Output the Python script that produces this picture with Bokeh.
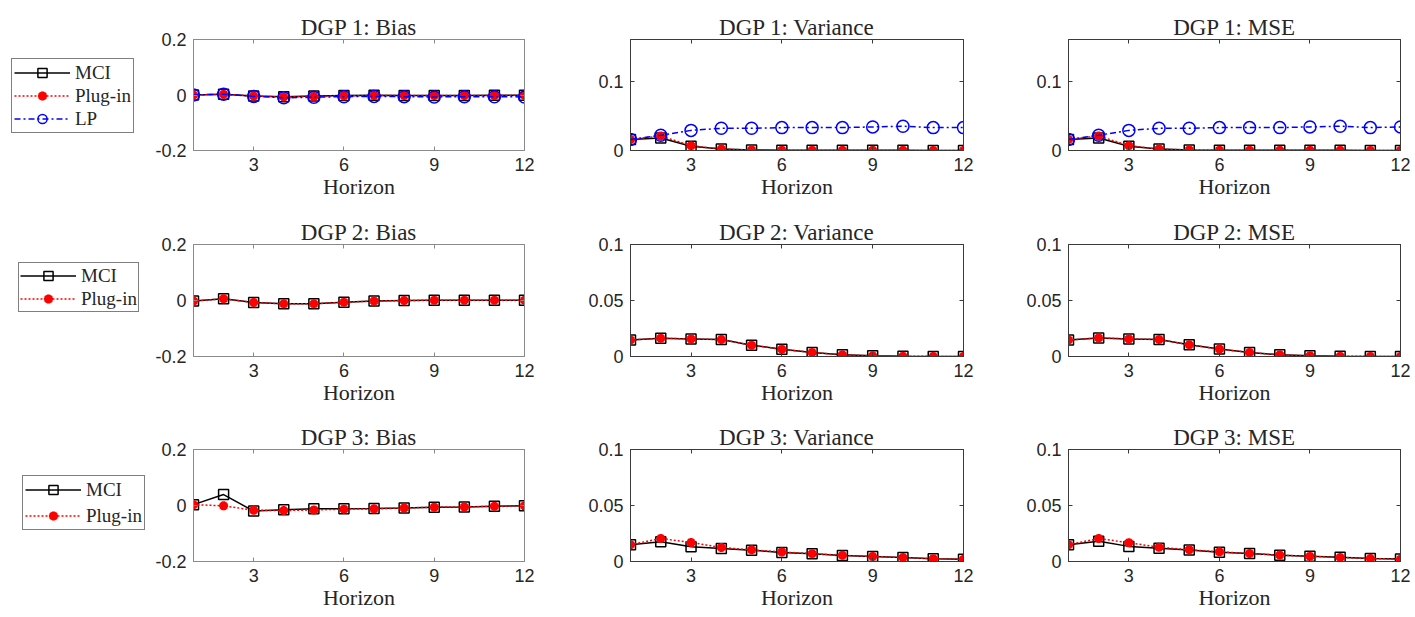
from bokeh.plotting import figure
from bokeh.layouts import column, row
from bokeh.models import FixedTicker, LinearAxis, Legend, LegendItem, Range1d
from bokeh.embed import file_html
from bokeh.resources import INLINE

# ---------------- data ----------------
horizon = list(range(1, 13))
x_ticks = [3, 6, 9, 12]

titles = [["DGP 1: Bias", "DGP 1: Variance", "DGP 1: MSE"],
          ["DGP 2: Bias", "DGP 2: Variance", "DGP 2: MSE"],
          ["DGP 3: Bias", "DGP 3: Variance", "DGP 3: MSE"]]
series_names = ["MCI", "Plug-in", "LP"]

# DGP 1
dgp1_bias_mci = [0.000, 0.003, -0.004, -0.006, -0.004, -0.002, -0.001, -0.002, -0.002, -0.002, -0.001, -0.001]
dgp1_bias_plugin = [0.000, 0.003, -0.004, -0.007, -0.005, -0.003, -0.002, -0.002, -0.002, -0.002, -0.002, -0.001]
dgp1_bias_lp = [0.000, 0.003, -0.005, -0.010, -0.008, -0.006, -0.005, -0.006, -0.007, -0.006, -0.006, -0.007]
dgp1_var_mci = [0.016, 0.018, 0.006, 0.002, 0.0008, 0.0004, 0.0003, 0.0002, 0.0002, 0.0002, 0.0001, 0.0001]
dgp1_var_plugin = [0.016, 0.021, 0.007, 0.002, 0.0008, 0.0004, 0.0003, 0.0002, 0.0002, 0.0002, 0.0001, 0.0001]
dgp1_var_lp = [0.016, 0.022, 0.029, 0.032, 0.032, 0.033, 0.033, 0.033, 0.034, 0.035, 0.033, 0.033]
dgp1_mse_mci = [0.016, 0.018, 0.006, 0.002, 0.0009, 0.0005, 0.0003, 0.0002, 0.0002, 0.0002, 0.0001, 0.0001]
dgp1_mse_plugin = [0.016, 0.021, 0.007, 0.002, 0.0009, 0.0005, 0.0003, 0.0002, 0.0002, 0.0002, 0.0001, 0.0001]
dgp1_mse_lp = [0.016, 0.022, 0.029, 0.032, 0.032, 0.033, 0.033, 0.033, 0.034, 0.035, 0.033, 0.034]

# DGP 2
dgp2_bias_mci = [-0.002, 0.006, -0.007, -0.012, -0.012, -0.006, -0.002, 0.000, 0.001, 0.001, 0.001, 0.001]
dgp2_bias_plugin = [-0.002, 0.006, -0.007, -0.012, -0.012, -0.006, -0.002, 0.000, 0.001, 0.001, 0.001, 0.001]
dgp2_var_mci = [0.0148, 0.0163, 0.0157, 0.0151, 0.0101, 0.0065, 0.0036, 0.0015, 0.0006, 0.0002, 0.0001, 0.0001]
dgp2_var_plugin = [0.0148, 0.0163, 0.0157, 0.0151, 0.0101, 0.0065, 0.0036, 0.0015, 0.0006, 0.0002, 0.0001, 0.0001]
dgp2_mse_mci = [0.0148, 0.0166, 0.0157, 0.0152, 0.0104, 0.0066, 0.0036, 0.0015, 0.0006, 0.0002, 0.0001, 0.0001]
dgp2_mse_plugin = [0.0148, 0.0166, 0.0157, 0.0152, 0.0104, 0.0066, 0.0036, 0.0015, 0.0006, 0.0002, 0.0001, 0.0001]

# DGP 3
dgp3_bias_mci = [0.003, 0.039, -0.020, -0.015, -0.012, -0.012, -0.011, -0.009, -0.006, -0.005, -0.003, -0.001]
dgp3_bias_plugin = [0.003, -0.001, -0.017, -0.018, -0.016, -0.013, -0.012, -0.009, -0.006, -0.005, -0.003, -0.001]
dgp3_var_mci = [0.0149, 0.0176, 0.0131, 0.0116, 0.0101, 0.0081, 0.0069, 0.0054, 0.0045, 0.0036, 0.0024, 0.0021]
dgp3_var_plugin = [0.0150, 0.0206, 0.0170, 0.0125, 0.0104, 0.0085, 0.0070, 0.0055, 0.0045, 0.0035, 0.0025, 0.0020]
dgp3_mse_mci = [0.0150, 0.0180, 0.0135, 0.0118, 0.0102, 0.0083, 0.0071, 0.0056, 0.0046, 0.0037, 0.0026, 0.0022]
dgp3_mse_plugin = [0.0150, 0.0205, 0.0168, 0.0127, 0.0105, 0.0087, 0.0072, 0.0057, 0.0046, 0.0036, 0.0026, 0.0021]

bias_ticks = [-0.2, 0, 0.2]
var1_ticks = [0, 0.1]
var_ticks = [0, 0.05, 0.1]

# ---------------- layout constants ----------------
LEG_W = 150
# (left border, frame width, right border) per column
COLS = [(193 - LEG_W, 331, 53), (53, 333, 52), (53, 332, 15)]
# (top border, frame height, bottom border) per row
ROWS = [(39, 111, 65), (29, 112, 64), (29, 112, 56)]
AXIS_COLORS = ["#8a8a8a", "#3a3a3a", "#3a3a3a"]
# legend: (left x, bottom offset above the frame bottom, item spacing, padding)
LEGEND_POS = [(11, 17, 0, 2), (18, 44, 0, 1), (22, 31, 3, 2)]

SERIF = "Liberation Serif"
SANS = "Liberation Sans"

STYLES = {
    "MCI": dict(line_color="black", line_dash="solid", marker="square", size=10,
                fill_color=None, mline="black", mlw=1.5),
    "Plug-in": dict(line_color="red", line_dash="2 2", marker="asterisk", size=9,
                    fill_color="red", mline="red", mlw=3),
    "LP": dict(line_color="blue", line_dash="6 3 2 3", marker="circle", size=12,
               fill_color=None, mline="blue", mlw=1.5),
}
NAN = [float("nan")]


def fmt(v):
    return "%g" % v


def draw_series(p, name, xs, ys):
    st = STYLES[name]
    lr = p.line(xs, ys, line_color=st["line_color"], line_dash=st["line_dash"], line_width=1.5)
    sr = p.scatter(xs, ys, marker=st["marker"], size=st["size"],
                   fill_color=st["fill_color"], line_color=st["mline"], line_width=st["mlw"])
    return lr, sr


def legend_fig(rowi, names):
    tb, fh, bb = ROWS[rowi]
    lx, vy, sp, pad = LEGEND_POS[rowi]
    p = figure(frame_width=LEG_W, frame_height=fh, title=None,
               min_border_left=0, min_border_right=0,
               min_border_top=tb, min_border_bottom=bb,
               x_range=Range1d(0, 1), y_range=Range1d(0, 1),
               x_axis_location=None, y_axis_location=None,
               output_backend="svg", toolbar_location=None)
    p.xgrid.visible = False
    p.ygrid.visible = False
    p.outline_line_color = None
    p.border_fill_color = "white"
    items = []
    for name in names:
        lr, sr = draw_series(p, name, NAN, NAN)
        items.append(LegendItem(label=name, renderers=[lr, sr]))
    leg = Legend(items=items, location=(lx, vy),
                 label_text_font=SERIF, label_text_font_size="19px",
                 label_text_color="#262626",
                 glyph_width=56, glyph_height=23, label_height=20,
                 label_standoff=5, spacing=sp, padding=pad, margin=0,
                 border_line_color="black", border_line_width=1,
                 background_fill_color="white", background_fill_alpha=1)
    p.add_layout(leg)
    return p


def box_axis(ticks, ac):
    ax = LinearAxis(ticker=FixedTicker(ticks=ticks))
    ax.axis_line_color = ac
    ax.major_tick_line_color = ac
    ax.major_tick_in = 4
    ax.major_tick_out = 0
    ax.minor_tick_line_color = None
    ax.major_label_text_color = None
    ax.major_label_text_font_size = "1px"
    ax.major_label_standoff = 0
    return ax


def panel(rowi, coli, ylim, yticks, data):
    lb, fw, rb = COLS[coli]
    tb, fh, bb = ROWS[rowi]
    ac = AXIS_COLORS[coli]
    p = figure(frame_width=fw, frame_height=fh,
               min_border_left=lb, min_border_right=rb,
               min_border_top=tb, min_border_bottom=bb,
               x_range=Range1d(1, 12), y_range=Range1d(*ylim),
               output_backend="svg", toolbar_location=None,
               x_axis_label="Horizon")
    p.xgrid.visible = False
    p.ygrid.visible = False
    p.outline_line_color = ac
    p.outline_line_width = 1
    p.background_fill_color = "white"
    p.border_fill_color = "white"

    p.title.text = titles[rowi][coli]
    p.title.align = "center"
    p.title.text_font = SERIF
    p.title.text_font_size = "23px"
    p.title.text_font_style = "normal"
    p.title.text_color = "#262626"
    p.title.standoff = 0

    xa = p.xaxis[0]
    xa.ticker = FixedTicker(ticks=x_ticks)
    ya = p.yaxis[0]
    ya.ticker = FixedTicker(ticks=yticks)
    ya.major_label_overrides = {t: fmt(t) for t in yticks}
    for ax in (xa, ya):
        ax.axis_line_color = ac
        ax.major_tick_line_color = ac
        ax.major_tick_in = 4
        ax.major_tick_out = 0
        ax.minor_tick_line_color = None
        ax.major_label_text_font = SANS
        ax.major_label_text_font_size = "18px"
        ax.major_label_text_color = "#262626"
    xa.major_label_standoff = 7
    ya.major_label_standoff = 7
    xa.axis_label_text_font = SERIF
    xa.axis_label_text_font_size = "22px"
    xa.axis_label_text_font_style = "normal"
    xa.axis_label_text_color = "#262626"
    xa.axis_label_standoff = 0

    # box ticks on the top and right (labels not painted)
    p.add_layout(box_axis(yticks, ac), "right")
    p.add_layout(box_axis(x_ticks[:-1], ac), "above")

    for name, yv in data:
        draw_series(p, name, horizon, yv)
    return p


l1 = legend_fig(0, ["MCI", "Plug-in", "LP"])
p11 = panel(0, 0, (-0.2, 0.2), bias_ticks,
            [("MCI", dgp1_bias_mci), ("Plug-in", dgp1_bias_plugin), ("LP", dgp1_bias_lp)])
p12 = panel(0, 1, (0, 0.16), var1_ticks,
            [("MCI", dgp1_var_mci), ("Plug-in", dgp1_var_plugin), ("LP", dgp1_var_lp)])
p13 = panel(0, 2, (0, 0.16), var1_ticks,
            [("MCI", dgp1_mse_mci), ("Plug-in", dgp1_mse_plugin), ("LP", dgp1_mse_lp)])

l2 = legend_fig(1, ["MCI", "Plug-in"])
p21 = panel(1, 0, (-0.2, 0.2), bias_ticks,
            [("MCI", dgp2_bias_mci), ("Plug-in", dgp2_bias_plugin)])
p22 = panel(1, 1, (0, 0.1), var_ticks,
            [("MCI", dgp2_var_mci), ("Plug-in", dgp2_var_plugin)])
p23 = panel(1, 2, (0, 0.1), var_ticks,
            [("MCI", dgp2_mse_mci), ("Plug-in", dgp2_mse_plugin)])

l3 = legend_fig(2, ["MCI", "Plug-in"])
p31 = panel(2, 0, (-0.2, 0.2), bias_ticks,
            [("MCI", dgp3_bias_mci), ("Plug-in", dgp3_bias_plugin)])
p32 = panel(2, 1, (0, 0.1), var_ticks,
            [("MCI", dgp3_var_mci), ("Plug-in", dgp3_var_plugin)])
p33 = panel(2, 2, (0, 0.1), var_ticks,
            [("MCI", dgp3_mse_mci), ("Plug-in", dgp3_mse_plugin)])

layout = column(row(l1, p11, p12, p13), row(l2, p21, p22, p23), row(l3, p31, p32, p33))

open("out.html", "w").write(file_html(layout, INLINE))
